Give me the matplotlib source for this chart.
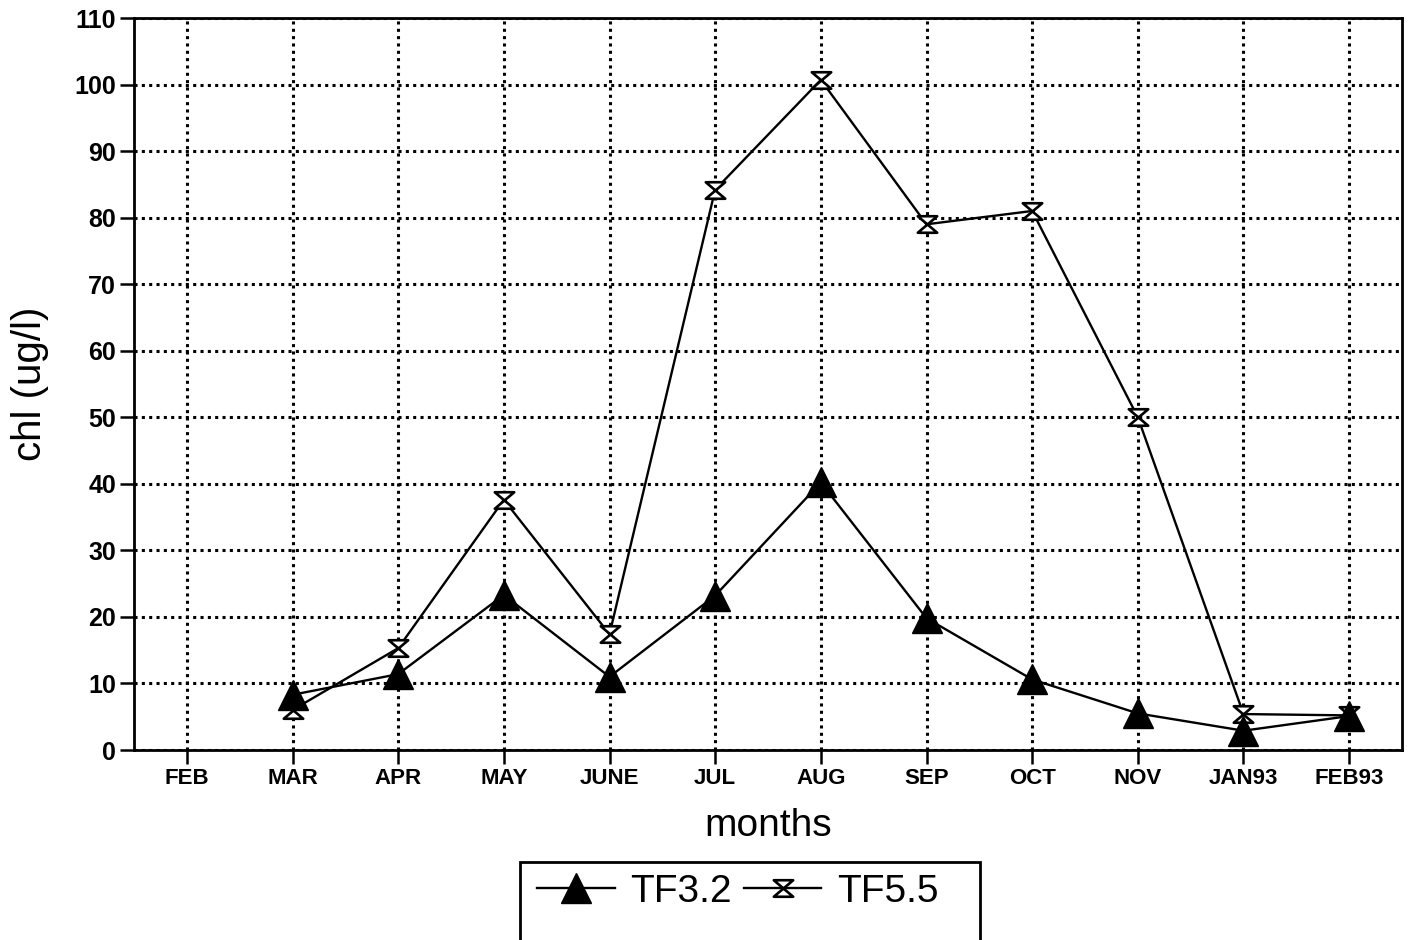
import matplotlib
matplotlib.use("Agg")
import matplotlib.pyplot as plt
from matplotlib.path import Path
from matplotlib.patches import Rectangle

plt.rcParams['font.family'] = ['Liberation Sans', 'DejaVu Sans']

months = ["FEB", "MAR", "APR", "MAY", "JUNE", "JUL", "AUG", "SEP", "OCT", "NOV", "JAN93", "FEB93"]
tf32 = [None, 8.3, 11.4, 23.3, 11.0, 23.2, 40.2, 19.8, 10.6, 5.5, 2.9, 5.1]
tf55 = [None, 6.0, 15.3, 37.6, 17.4, 84.2, 100.7, 79.0, 81.0, 50.0, 5.4, 5.2]
yticks = list(range(0, 111, 10))

hourglass = Path([(-1, 0.85), (1, 0.85), (-1, -0.85), (1, -0.85), (-1, 0.85)],
                 [Path.MOVETO, Path.LINETO, Path.LINETO, Path.LINETO, Path.CLOSEPOLY])

fig = plt.figure(figsize=(14.11, 9.40), dpi=100)
ax = fig.add_axes([134/1411, 190/940, (1402-134)/1411, (750-18)/940])

xs = list(range(len(months)))
x32 = [x for x, v in zip(xs, tf32) if v is not None]
v32 = [v for v in tf32 if v is not None]
x55 = [x for x, v in zip(xs, tf55) if v is not None]
v55 = [v for v in tf55 if v is not None]

l55, = ax.plot(x55, v55, color='black', lw=1.7, marker=hourglass, markersize=14,
               markerfacecolor='white', markeredgecolor='black', markeredgewidth=1.9,
               label='TF5.5', zorder=3)
l32, = ax.plot(x32, v32, color='black', lw=1.7, marker='^', markersize=22,
               markerfacecolor='black', markeredgecolor='black', label='TF3.2', zorder=4)

ax.set_xlim(-0.5, len(months) - 0.5)
ax.set_ylim(0, 110)
ax.set_xticks(xs)
ax.set_xticklabels(months, fontsize=16, fontweight='bold')
ax.set_yticks(yticks)
ax.set_yticklabels([str(t) for t in yticks], fontsize=18, fontweight='bold')
ax.tick_params(axis='both', direction='out', length=10, width=1.8, color='black', pad=3)
ax.grid(True, color='black', linestyle=(0, (1, 1.4)), linewidth=2.2)
for s in ax.spines.values():
    s.set_linewidth(2.0)

ax.set_xlabel('months', fontsize=28, labelpad=14)
ax.set_ylabel('chl (ug/l)', fontsize=29, labelpad=18)

# legend box
fig.patches.append(Rectangle((520/1411, -0.02), (980-520)/1411, (940-862)/940 + 0.02,
                             transform=fig.transFigure, fill=False, edgecolor='black',
                             linewidth=2.0))
leg = fig.legend([l32, l55], ['TF3.2', 'TF5.5'], loc='center left',
                 bbox_to_anchor=(537/1411, 1 - 892/940), ncol=2, frameon=False,
                 fontsize=28, handlelength=2.0, handletextpad=0.4, columnspacing=0.3,
                 borderpad=0, borderaxespad=0)
fig.savefig('out.png', dpi=100)
